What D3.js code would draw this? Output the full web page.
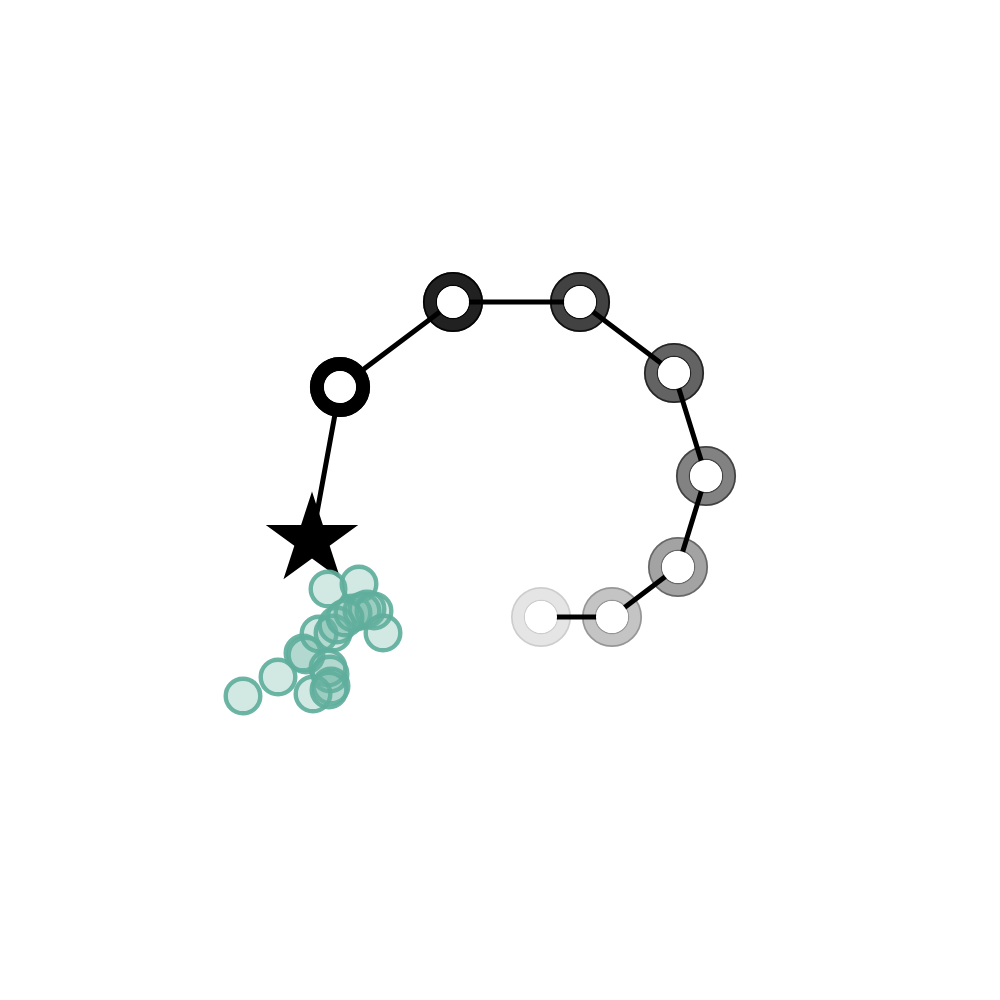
<!DOCTYPE html>
<html>
<head>
<meta charset="utf-8">
<script src="https://cdn.jsdelivr.net/npm/d3@7"></script>
<style>
  html, body { margin: 0; padding: 0; background: #fff; }
  svg { display: block; }
</style>
</head>
<body>
<div id="js_chart"></div>
<script>
// Path of the walk (star start, then rings fading out)
const startX = 31.2, startY = 54.0;
const pathX = [34.0, 45.3, 58.0, 67.4, 70.6, 67.8, 61.2, 54.1];
const pathY = [38.7, 30.2, 30.2, 37.3, 47.6, 56.7, 61.7, 61.7];
const pathAlpha = [1, 0.87, 0.74, 0.61, 0.49, 0.36, 0.23, 0.1];

// Cluster of teal points
const pointX = [24.3, 27.8, 30.3, 30.6, 31.9, 33.3, 33.7, 32.8, 35.9, 35.3,
                36.2, 36.7, 37.4, 38.3, 32.8, 33.0, 33.1, 31.3, 32.9, 34.5];
const pointY = [69.6, 67.7, 65.3, 65.5, 63.4, 63.3, 62.5, 58.9, 58.4, 61.3,
                61.1, 60.9, 61.1, 63.3, 66.8, 67.4, 68.6, 69.4, 69.0, 61.8];

function createPlot() {
    let width = 1000,
        height = 1000;

    let x = d3.scaleLinear().domain([0, 100]).range([0, width]);
    let y = d3.scaleLinear().domain([0, 100]).range([0, height]);

    let svg = d3.select("#js_chart")
        .append("svg")
        .attr("width", width)
        .attr("height", height);

    let walk = [{x: startX, y: startY}].concat(pathX.map(function (d, i) {
        return {x: d, y: pathY[i], a: pathAlpha[i]};
    }));
    let rings = walk.slice(1);

    // Grey rings (face + edge drawn separately so the edge shows darker)
    let gRings = svg.append("g");
    rings.forEach(function (d) {
        let t = "translate(" + x(d.x) + "," + y(d.y) + ")";
        gRings.append("path")
            .attr("fill", "#000")
            .attr("fill-opacity", d.a)
            .attr("d", d3.arc()({innerRadius: 16, outerRadius: 30, startAngle: 0, endAngle: 2 * Math.PI}))
            .attr("transform", t);
        [29.2, 16.6].forEach(function (r) {
            gRings.append("circle")
                .attr("cx", x(d.x))
                .attr("cy", y(d.y))
                .attr("r", r)
                .attr("fill", "none")
                .attr("stroke", "#000")
                .attr("stroke-opacity", d.a)
                .attr("stroke-width", r > 20 ? 1.8 : 1.2);
        });
    });

    // Connecting line
    svg.append("path")
        .datum(walk)
        .attr("fill", "none")
        .attr("stroke", "#000")
        .attr("stroke-width", 5)
        .attr("d", d3.line()
            .x(function (d) { return x(d.x); })
            .y(function (d) { return y(d.y); }));

    // White centres
    svg.append("g").selectAll("circle")
        .data(rings)
        .enter().append("circle")
        .attr("cx", function (d) { return x(d.x); })
        .attr("cy", function (d) { return y(d.y); })
        .attr("r", 16)
        .attr("fill", "#fff");

    // Start star
    svg.append("path")
        .attr("d", d3.symbol().type(d3.symbolStar).size(2650)())
        .attr("fill", "#000")
        .attr("transform", "translate(" + x(startX) + "," + y(startY) + ")");

    // Teal points
    svg.append("g").selectAll("circle")
        .data(pointX.map(function (d, i) { return {x: d, y: pointY[i]}; }))
        .enter().append("circle")
        .attr("cx", function (d) { return x(d.x); })
        .attr("cy", function (d) { return y(d.y); })
        .attr("r", 17.3)
        .attr("fill", "#69b3a2")
        .attr("fill-opacity", 0.3)
        .attr("stroke", "#5fae9c")
        .attr("stroke-opacity", 0.92)
        .attr("stroke-width", 4.4);
}

createPlot();
</script>
</body>
</html>
